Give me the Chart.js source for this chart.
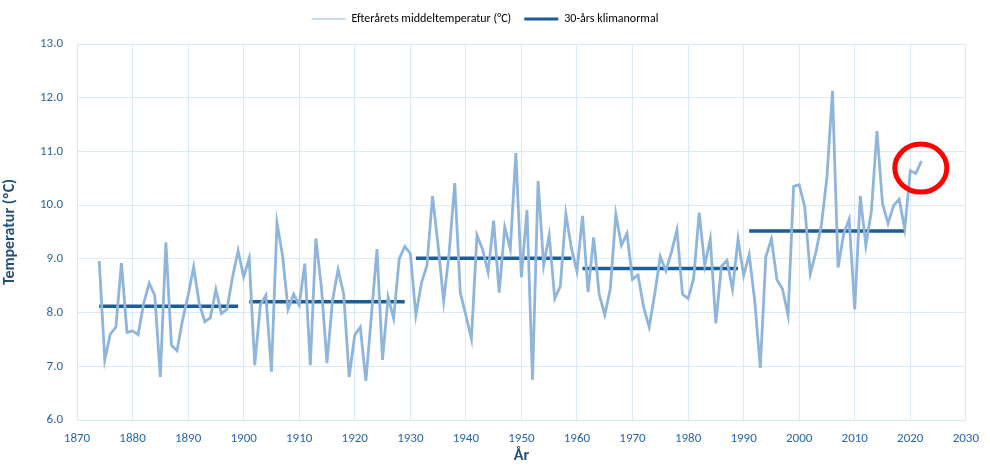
<!DOCTYPE html>
<html>
<head>
<meta charset="utf-8">
<script src="https://cdn.jsdelivr.net/npm/chart.js@4/dist/chart.umd.min.js"></script>
<style>
  html, body { margin: 0; padding: 0; background: #fff; }
  #wrap { width: 990px; height: 468px; }
</style>
</head>
<body>
<div id="wrap"><canvas id="myChart" width="990" height="468"></canvas></div>
<script>
var firstYear = 1874;
// autumn mean temperature, one value per year from 1874 to 2022
var temps = [
  8.96, 7.12, 7.60, 7.73, 8.92, 7.63,                               // 1874-1879
  7.66, 7.59, 8.17, 8.55, 8.32, 6.80, 9.31, 7.39, 7.29, 7.86,       // 1880s
  8.32, 8.85, 8.17, 7.83, 7.90, 8.43, 7.98, 8.06, 8.66, 9.15,       // 1890s
  8.66, 9.01, 7.02, 8.14, 8.32, 6.90, 9.67, 9.06, 8.06, 8.34,       // 1900s
  8.14, 8.91, 7.02, 9.38, 8.47, 7.06, 8.23, 8.80, 8.35, 6.80,       // 1910s
  7.58, 7.73, 6.73, 7.95, 9.18, 7.12, 8.29, 7.89, 9.00, 9.23,       // 1920s
  9.10, 7.95, 8.55, 8.88, 10.17, 9.25, 8.21, 9.12, 10.41, 8.37,     // 1930s
  7.95, 7.51, 9.44, 9.18, 8.75, 9.71, 8.37, 9.59, 9.18, 10.97,      // 1940s
  8.66, 9.91, 6.75, 10.45, 8.88, 9.44, 8.26, 8.49, 9.84, 9.20,      // 1950s
  8.77, 9.80, 8.38, 9.40, 8.34, 7.96, 8.44, 9.83, 9.25, 9.47,       // 1960s
  8.62, 8.70, 8.10, 7.73, 8.35, 9.04, 8.78, 9.12, 9.54, 8.34,       // 1970s
  8.26, 8.63, 9.86, 8.88, 9.37, 7.80, 8.86, 8.97, 8.43, 9.37,       // 1980s
  8.69, 9.08, 8.22, 6.97, 9.04, 9.37, 8.61, 8.44, 7.95, 10.35,      // 1990s
  10.38, 9.97, 8.72, 9.12, 9.63, 10.52, 12.13, 8.84, 9.46, 9.74,    // 2000s
  8.06, 10.17, 9.25, 9.89, 11.38, 10.03, 9.66, 9.99, 10.11, 9.56,   // 2010s
  10.64, 10.59, 10.82                                               // 2020-2022
];
// 30 year normals: start year, end year, value
var normalStart = [1874, 1901, 1931, 1961, 1991];
var normalEnd   = [1899, 1929, 1959, 1989, 2019];
var normalValue = [8.12, 8.20, 9.01, 8.82, 9.52];
// the red ring marks the latest years
var markYear = 2021.9, markValue = 10.69;

var seriesPts = temps.map(function(v, i){ return {x: firstYear + i, y: v}; });
var normalPts = [];
for (var i = 0; i < normalStart.length; i++) {
  normalPts.push({x: normalStart[i], y: normalValue[i]});
  normalPts.push({x: normalEnd[i], y: normalValue[i]});
  normalPts.push({x: normalEnd[i] + 0.5, y: null});
}

var fontFam = "Carlito, Lato, 'Liberation Sans', sans-serif";
var tickBlue = "#2a66a6";
var titleBlue = "#1f4e79";
var gridBlue = "#dbe8f5";

var ringPlugin = {
  id: 'ring',
  afterInit: function(chart){
    // a bit more room under the legend
    var lg = chart.legend;
    if (lg) {
      var fit = lg.fit;
      lg.fit = function(){ fit.call(this); this.height += 9; };
    }
  },
  afterDatasetsDraw: function(chart){
    var c = chart.ctx;
    var px = chart.scales.x.getPixelForValue(markYear);
    var py = chart.scales.y.getPixelForValue(markValue);
    c.save();
    c.beginPath();
    c.ellipse(px, py, 26, 24, 0, 0, Math.PI * 2);
    c.strokeStyle = "#ff0000";
    c.lineWidth = 5;
    c.stroke();
    c.restore();
  }
};

var ctx = document.getElementById("myChart").getContext("2d");
var myChart = new Chart(ctx, {
  type: 'line',
  data: {
    datasets: [
      {
        label: "Efterårets middeltemperatur (°C)",
        data: seriesPts,
        borderColor: "#8fb5da",
        backgroundColor: "#8fb5da",
        borderWidth: 2.8,
        pointRadius: 0,
        tension: 0
      },
      {
        label: "30-års klimanormal",
        data: normalPts,
        borderColor: "#1c5d94",
        backgroundColor: "#1c5d94",
        borderWidth: 3.5,
        pointRadius: 0,
        spanGaps: false
      }
    ]
  },
  options: {
    responsive: false,
    animation: false,
    layout: { padding: { left: 0, right: 20, top: 0, bottom: 0 } },
    plugins: {
      tooltip: { enabled: false },
      legend: {
        position: 'top',
        labels: {
          font: { family: fontFam, size: 12 },
          color: "#404040",
          padding: 13,
          generateLabels: function(chart){
            return chart.data.datasets.map(function(ds, i){
              return {
                text: ds.label,
                fillStyle: ds.borderColor,
                strokeStyle: ds.borderColor,
                lineWidth: i === 0 ? 1 : 3,
                pointStyle: 'line',
                datasetIndex: i
              };
            });
          },
          usePointStyle: true,
          pointStyleWidth: 34
        }
      }
    },
    scales: {
      x: {
        type: 'linear',
        min: 1870,
        max: 2030,
        ticks: {
          stepSize: 10,
          color: tickBlue,
          font: { family: fontFam, size: 13 },
          padding: 11,
          maxRotation: 0,
          callback: function(v){ return String(v); }
        },
        grid: { color: gridBlue, drawTicks: false },
        border: { color: gridBlue },
        title: {
          display: true,
          text: "År",
          color: titleBlue,
          font: { family: fontFam, size: 16, weight: 'bold' },
          padding: { top: 0, bottom: 2 }
        },
        afterFit: function(scale){ scale.height = 48; }
      },
      y: {
        min: 6,
        max: 13,
        ticks: {
          stepSize: 1,
          color: tickBlue,
          font: { family: fontFam, size: 13 },
          padding: 14,
          callback: function(v){ return v.toFixed(1); }
        },
        grid: { color: gridBlue, drawTicks: false },
        border: { color: gridBlue },
        title: {
          display: true,
          text: "Temperatur (ºC)",
          color: titleBlue,
          font: { family: fontFam, size: 16, weight: 'bold' },
          padding: { top: 0, bottom: 4 }
        },
        afterFit: function(scale){ scale.width = 77; }
      }
    }
  },
  plugins: [ringPlugin]
});
</script>
</body>
</html>
